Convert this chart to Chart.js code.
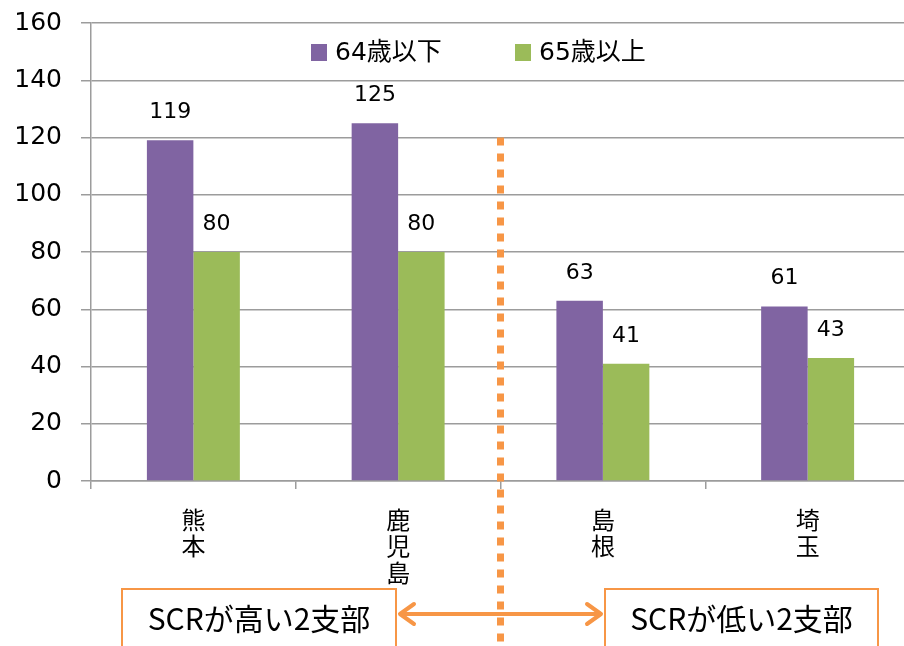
<!DOCTYPE html>
<html>
<head>
<meta charset="utf-8">
<script src="https://cdn.jsdelivr.net/npm/chart.js@4/dist/chart.umd.min.js"></script>
<style>
html,body{margin:0;padding:0;background:#fff;overflow:hidden;}
#wrap{position:relative;width:912px;height:646px;}
</style>
</head>
<body>
<div id="wrap"><canvas id="c"></canvas></div>
<script>
const categories = [['熊','本'],['鹿','児','島'],['島','根'],['埼','玉']];
const seriesNames = ['64歳以下','65歳以上'];
const under64 = [119,125,63,61];
const over65 = [80,80,41,43];
const yMin = 0, yMax = 160, yStep = 20;
const groupLabels = ['SCRが高い2支部','SCRが低い2支部'];
const dividerFrom = 120;

const PURPLE = '#8064A2', GREEN = '#9BBB59', ORANGE = '#F79646', GRID = '#9c9c9c';
const NUMFONT = '"DejaVu Sans","Noto Sans CJK JP",sans-serif';
const JPFONT = '"Noto Sans CJK JP","DejaVu Sans",sans-serif';

const overlay = {
  id:'overlay',
  afterDatasetsDraw(chart){
    const ctx = chart.ctx;
    ctx.save();
    ctx.fillStyle = '#000';
    ctx.font = '22px ' + NUMFONT;
    ctx.textAlign = 'center';
    ctx.textBaseline = 'alphabetic';
    chart.data.datasets.forEach((ds,i)=>{
      chart.getDatasetMeta(i).data.forEach((el,j)=>{
        ctx.fillText(String(ds.data[j]), el.x, el.y - 22);
      });
    });
    ctx.restore();
    const xs = chart.scales.x, ys = chart.scales.y;
    const xd = (xs.getPixelForValue(1) + xs.getPixelForValue(2)) / 2;
    ctx.save();
    ctx.strokeStyle = ORANGE;
    ctx.lineWidth = 7;
    ctx.setLineDash([8,8]);
    ctx.beginPath();
    ctx.moveTo(xd, ys.getPixelForValue(dividerFrom));
    ctx.lineTo(xd, chart.height);
    ctx.stroke();
    ctx.restore();
  },
  afterDraw(chart){
    const ctx = chart.ctx;
    ctx.save();
    ctx.font = '25px ' + NUMFONT;
    ctx.textBaseline = 'middle';
    ctx.textAlign = 'left';
    const legendX = [311, 515]; const y = 52;
    chart.data.datasets.forEach((ds,i)=>{
      const x = legendX[i];
      ctx.fillStyle = ds.backgroundColor;
      ctx.fillRect(x, y - 8, 16, 17);
      ctx.fillStyle = '#000';
      ctx.fillText(ds.label, x + 24, y + 1);
    });
    ctx.restore();
    ctx.save();
    ctx.strokeStyle = ORANGE;
    ctx.lineWidth = 2;
    const boxes = [[122,396],[605,878]];
    boxes.forEach((b,i)=>{
      ctx.strokeRect(b[0], 589, b[1]-b[0], 80);
      ctx.fillStyle = '#000';
      ctx.font = '30px ' + JPFONT;
      ctx.textAlign = 'center';
      ctx.textBaseline = 'middle';
      ctx.fillText(groupLabels[i], (b[0]+b[1])/2, 619);
    });
    ctx.lineWidth = 4;
    ctx.lineCap = 'round';
    ctx.lineJoin = 'round';
    const ay = 614, ax1 = 400, ax2 = 601;
    ctx.beginPath();
    ctx.moveTo(ax1, ay); ctx.lineTo(ax2, ay);
    ctx.moveTo(ax1 + 14, ay - 10); ctx.lineTo(ax1, ay); ctx.lineTo(ax1 + 14, ay + 10);
    ctx.moveTo(ax2 - 14, ay - 10); ctx.lineTo(ax2, ay); ctx.lineTo(ax2 - 14, ay + 10);
    ctx.stroke();
    ctx.restore();
  }
};

new Chart(document.getElementById('c'), {
  type:'bar',
  data:{
    labels: categories,
    datasets:[
      {label:seriesNames[0], data:under64, backgroundColor:PURPLE, borderWidth:0},
      {label:seriesNames[1], data:over65, backgroundColor:GREEN, borderWidth:0}
    ]
  },
  options:{
    responsive:true,
    maintainAspectRatio:false,
    animation:false,
    layout:{padding:{top:23, right:2, left:0, bottom:0}},
    plugins:{legend:{display:false}, tooltip:{enabled:false}, title:{display:false}},
    datasets:{bar:{categoryPercentage:0.454, barPercentage:1.0}},
    scales:{
      x:{
        grid:{drawOnChartArea:false, drawTicks:true, tickLength:8, color:GRID, lineWidth:1.5, offset:true},
        border:{color:GRID, width:1.5},
        ticks:{color:'#000', font:{family:JPFONT, size:24, lineHeight:1.12}, padding:17, maxRotation:0, autoSkip:false},
        afterFit(s){ s.height = 165; s.paddingLeft = 0; s.paddingRight = 0; }
      },
      y:{
        min:yMin, max:yMax,
        grid:{color:GRID, lineWidth:1.5, tickLength:10, drawTicks:true},
        border:{color:GRID, width:1.5},
        ticks:{stepSize:yStep, color:'#000', font:{family:NUMFONT, size:25}, padding:19},
        afterFit(s){ s.width = 91; s.paddingTop = 0; s.paddingBottom = 0; }
      }
    }
  },
  plugins:[overlay]
});
</script>
</body>
</html>
